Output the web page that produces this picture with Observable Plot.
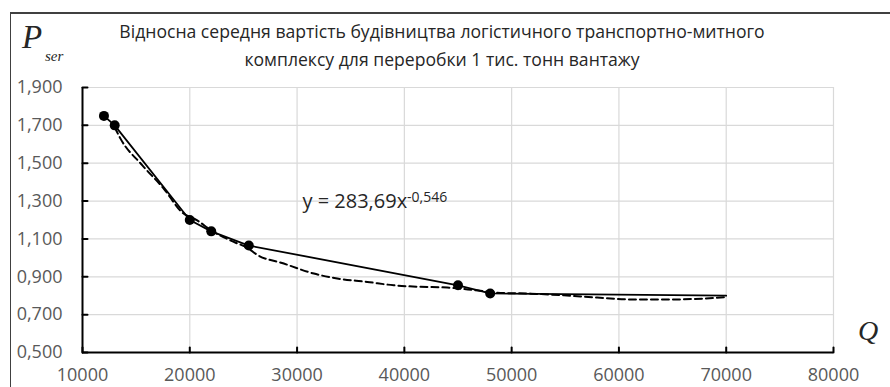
<!DOCTYPE html>
<html><head><meta charset="utf-8">
<script src="https://cdn.jsdelivr.net/npm/d3@7"></script>
<script src="https://cdn.jsdelivr.net/npm/@observablehq/plot@0.6"></script>
<style>
body{margin:0;background:#fff;}
#wrap{position:relative;width:890px;height:387px;overflow:hidden;font-family:"Open Sans",sans-serif;}
#frame{position:absolute;left:10px;top:12px;width:900px;height:400px;border-top:2px solid #404040;border-left:1.5px solid #404040;box-sizing:border-box;}
#title{position:absolute;left:0;width:884px;top:17px;text-align:center;font-size:17.6px;line-height:28px;color:#262626;}
.sym{position:absolute;font-family:"Liberation Serif",serif;font-style:italic;color:#262626;line-height:1;white-space:nowrap;}
#chart{position:absolute;left:0;top:0;}
</style>
</head><body>
<div id="wrap">
  <div id="frame"></div>
  <div id="chart"></div>
  <div id="title"></div>
  <span class="sym" id="pSym" style="left:22px;top:21px;font-size:33px;"></span>
  <span class="sym" id="pSub" style="left:45px;top:49px;font-size:15px;"></span>
  <span class="sym" id="qSym" style="left:858px;top:317px;font-size:28px;"></span>
</div>
<script>
// ---- data ----
const titleLines = ["Відносна середня вартість будівництва логістичного транспортно-митного", "комплексу для переробки 1 тис. тонн вантажу"];
const yLabel = "P";
const yLabelSub = "ser";
const xLabel = "Q";

const xTicks = [10000, 20000, 30000, 40000, 50000, 60000, 70000, 80000];
const yTicks = [0.5, 0.7, 0.9, 1.1, 1.3, 1.5, 1.7, 1.9];

// observed points (markers)
const pointQ = [12000, 13000, 20000, 22000, 25500, 45000, 48000];
const pointP = [1.75, 1.70, 1.20, 1.14, 1.065, 0.855, 0.812];
// solid line continues to the last (unmarked) value
const lineEndQ = 70000;
const lineEndP = 0.80;

// dashed trend curve
const trendQ = [13000, 13540, 15560, 17580, 19290, 20690, 22000, 24100, 25500, 26120, 28760, 31560, 33740, 36530, 39010, 41500, 44000, 46500, 48960, 51750, 54860, 57970, 61380, 64490, 67900, 70000];
const trendP = [1.69, 1.63, 1.49, 1.365, 1.24, 1.198, 1.145, 1.084, 1.049, 1.022, 0.970, 0.917, 0.891, 0.873, 0.855, 0.847, 0.843, 0.830, 0.815, 0.811, 0.802, 0.790, 0.780, 0.780, 0.785, 0.793];

const eqMain = "y = 283,69x";
const eqSup = "-0,546";
const eqQ = 30500;
const eqP = 1.295;

// ---- build tables ----
const points = pointQ.map((q, i) => ({q, p: pointP[i]}));
const lineData = [...points, {q: lineEndQ, p: lineEndP}];
const trend = trendQ.map((q, i) => ({q, p: trendP[i]}));
const eq = [{q: eqQ, p: eqP, text: eqMain}];

const tickShape = {draw(context, l) { context.moveTo(0, 0); context.lineTo(0, -l); }};
const fmtY = d => d.toFixed(3).replace(".", ",");

const chart = Plot.plot({
  width: 890, height: 387,
  marginLeft: 82, marginRight: 57, marginTop: 87, marginBottom: 35,
  x: {domain: [xTicks[0], xTicks[xTicks.length - 1]]},
  y: {domain: [yTicks[0], yTicks[yTicks.length - 1]]},
  style: {fontFamily: "'Open Sans', sans-serif", background: "transparent", overflow: "visible"},
  marks: [
    Plot.gridX({ticks: xTicks.slice(1), stroke: "#d9d9d9", strokeOpacity: 1, strokeWidth: 1.2}),
    Plot.gridY({ticks: yTicks.slice(1), stroke: "#d9d9d9", strokeOpacity: 1, strokeWidth: 1.2}),
    Plot.axisY({ticks: yTicks, tickSize: 0, tickPadding: 20, tickFormat: fmtY, fontSize: 18, color: "#595959", label: null}),
    Plot.axisX({ticks: xTicks, tickSize: 0, tickPadding: 16, tickFormat: d => String(d), fontSize: 18, color: "#595959", label: null}),
    Plot.ruleX([xTicks[0]], {stroke: "black", strokeWidth: 2}),
    Plot.ruleY([yTicks[0]], {stroke: "black", strokeWidth: 2}),
    Plot.vector(xTicks, {x: d => d, y: yTicks[0], length: 5, rotate: 0, anchor: "start", shape: tickShape, stroke: "black", strokeWidth: 2}),
    Plot.vector(yTicks, {x: xTicks[0], y: d => d, length: 5, rotate: 90, anchor: "start", shape: tickShape, stroke: "black", strokeWidth: 2}),
    Plot.line(trend, {x: "q", y: "p", stroke: "black", strokeWidth: 2, strokeDasharray: "7,4", curve: "monotone-x"}),
    Plot.line(lineData, {x: "q", y: "p", stroke: "black", strokeWidth: 1.8}),
    Plot.dot(points, {x: "q", y: "p", r: 5, fill: "black", stroke: "none"}),
    Plot.text(eq, {x: "q", y: "p", text: "text", textAnchor: "start", fontSize: 20, fill: "#262626"})
  ]
});

d3.select(chart).selectAll("text").filter(function() { return this.textContent === eqMain; })
  .append("tspan").attr("dy", "-0.45em").attr("font-size", 14).text(eqSup);

document.getElementById("chart").appendChild(chart);
document.getElementById("title").innerHTML = titleLines.join("<br>");
document.getElementById("pSym").textContent = yLabel;
document.getElementById("pSub").textContent = yLabelSub;
document.getElementById("qSym").textContent = xLabel;
</script>
</body></html>
